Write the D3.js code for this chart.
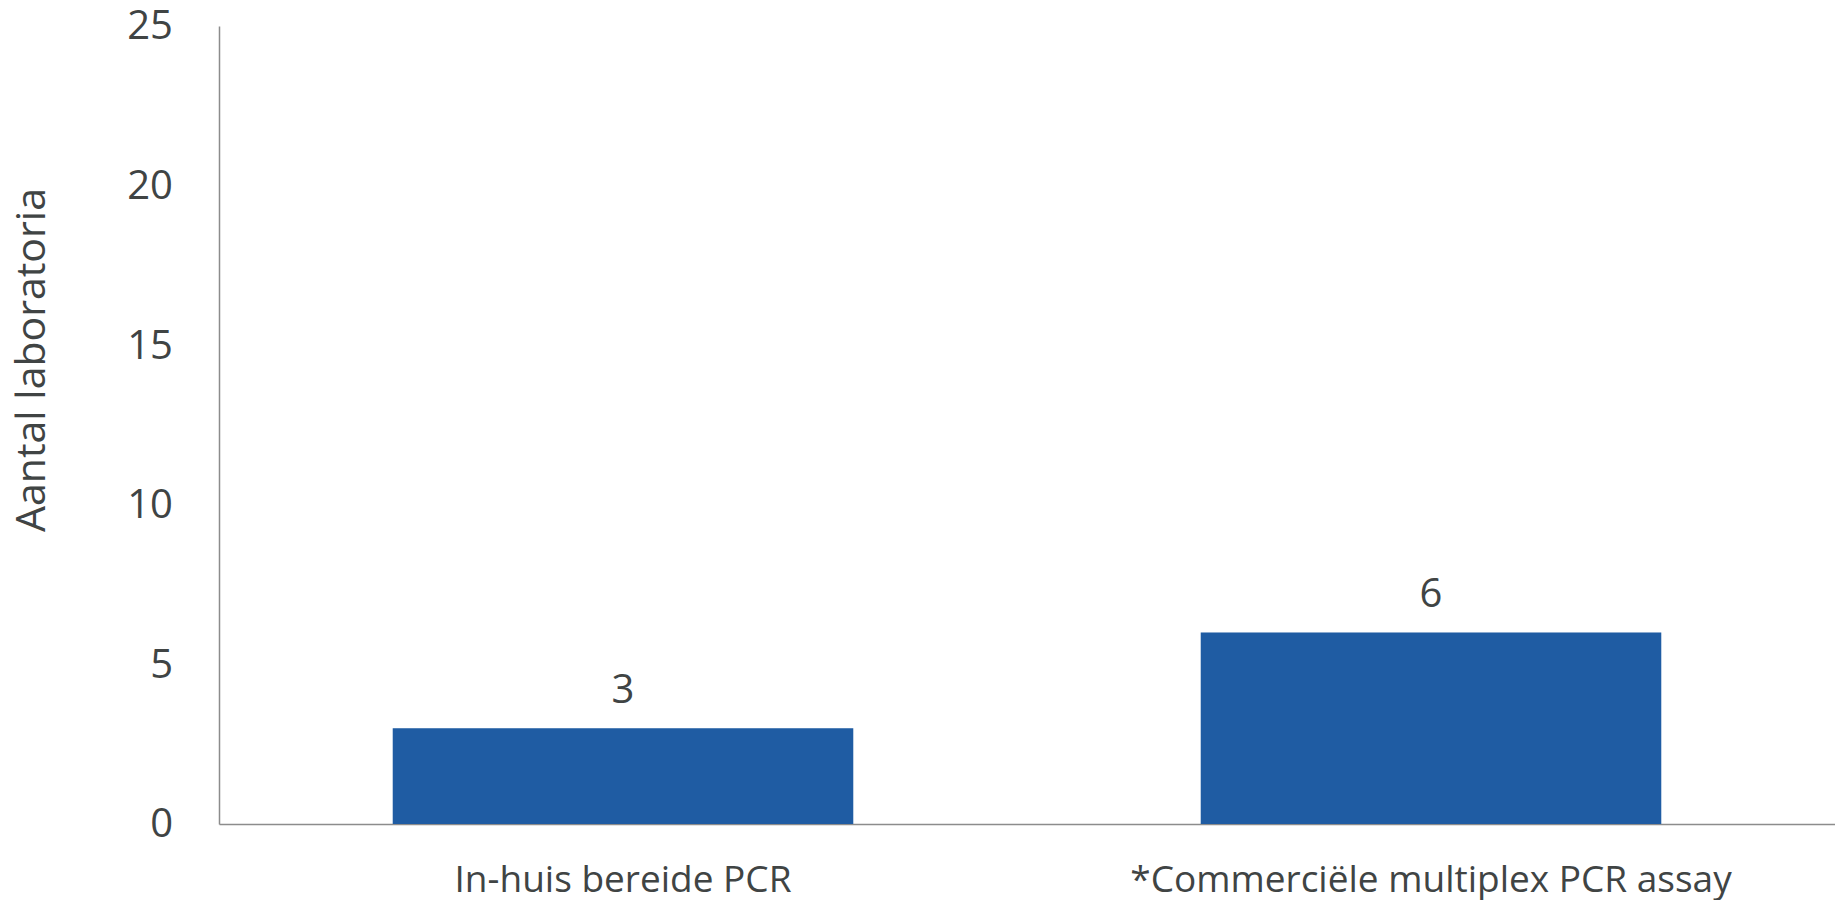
<!DOCTYPE html>
<html>
<head>
<meta charset="utf-8">
<script src="https://cdn.jsdelivr.net/npm/d3@7"></script>
<style>
  html, body { margin: 0; padding: 0; background: #ffffff; }
  svg { display: block; }
</style>
</head>
<body>
<div id="chart"></div>
<script>
  // Data
  const categories = ['In-huis bereide PCR', '*Commerciële multiplex PCR assay'];
  const values = [3, 6];
  const yTicks = [0, 5, 10, 15, 20, 25];
  const yLabel = 'Aantal laboratoria';

  const width = 1835;
  const height = 900;
  const margin = { top: 26, right: 0, bottom: 76, left: 219 };
  const innerWidth = width - margin.left - margin.right;
  const innerHeight = height - margin.top - margin.bottom;

  const textColor = '#404444';
  const axisColor = '#8c8c8c';
  const barColor = '#1f5ca3';
  const font = "'Open Sans', 'Noto Sans', sans-serif";

  const svg = d3.select('#chart')
    .append('svg')
    .attr('width', width)
    .attr('height', height);

  const g = svg.append('g')
    .attr('transform', `translate(${margin.left},${margin.top})`);

  const x = d3.scaleBand()
    .domain(categories)
    .range([0, innerWidth])
    .paddingInner(0.43)
    .paddingOuter(0.215);

  const y = d3.scaleLinear()
    .domain([0, 25])
    .range([innerHeight, 0]);

  // Y axis
  g.append('g')
    .call(d3.axisLeft(y).tickValues(yTicks).tickSize(0).tickPadding(46))
    .call(a => a.select('.domain').attr('stroke', axisColor).attr('stroke-width', 1.5))
    .call(a => a.selectAll('.tick text')
      .attr('fill', textColor)
      .attr('font-family', font)
      .attr('font-size', '40px'));

  // X axis
  g.append('g')
    .attr('transform', `translate(0,${innerHeight})`)
    .call(d3.axisBottom(x).tickSize(0).tickPadding(42))
    .call(a => a.select('.domain').attr('stroke', axisColor).attr('stroke-width', 1.5))
    .call(a => a.selectAll('.tick text')
      .attr('fill', textColor)
      .attr('font-family', font)
      .attr('font-size', '37px'));

  // Bars
  g.selectAll('.bar')
    .data(categories.map((c, i) => ({ c, v: values[i] })))
    .enter()
    .append('rect')
    .attr('class', 'bar')
    .attr('x', d => x(d.c))
    .attr('width', x.bandwidth())
    .attr('y', d => y(d.v))
    .attr('height', d => innerHeight - y(d.v))
    .attr('fill', barColor);

  // Value labels
  g.selectAll('.val')
    .data(categories.map((c, i) => ({ c, v: values[i] })))
    .enter()
    .append('text')
    .attr('x', d => x(d.c) + x.bandwidth() / 2)
    .attr('y', d => y(d.v) - 25)
    .attr('text-anchor', 'middle')
    .attr('fill', textColor)
    .attr('font-family', font)
    .attr('font-size', '40px')
    .text(d => d.v);

  // Y axis title
  svg.append('text')
    .attr('transform', `translate(45,360) rotate(-90)`)
    .attr('text-anchor', 'middle')
    .attr('fill', textColor)
    .attr('font-family', font)
    .attr('font-size', '41px')
    .text(yLabel);
</script>
</body>
</html>
